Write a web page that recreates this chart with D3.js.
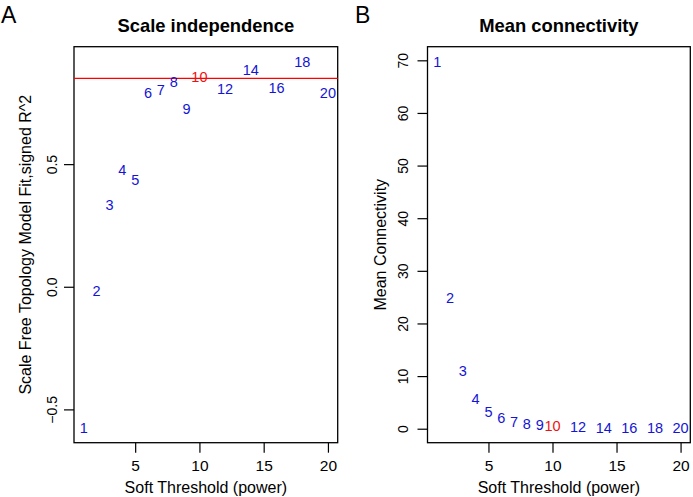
<!DOCTYPE html>
<html><head><meta charset="utf-8">
<script src="https://cdn.jsdelivr.net/npm/d3@7"></script>
<style>body{margin:0;background:#fff} svg{display:block} text{font-family:"Liberation Sans",Arial,Helvetica,sans-serif}</style>
</head><body><svg id="c" width="693" height="497"></svg>
<script>
const powers = [1,2,3,4,5,6,7,8,9,10,12,14,16,18,20];
const scaleFitR2 = [-0.576,-0.015,0.334,0.478,0.436,0.790,0.802,0.835,0.726,0.855,0.809,0.885,0.810,0.919,0.790];
const meanConnectivity = [69.8,24.8,11.1,5.6,3.3,2.0,1.3,1.0,0.7,0.5,0.3,0.22,0.18,0.15,0.13];
const xTicks = [5,10,15,20];
const yTicksA = [-0.5,0.0,0.5];
const yTicksB = [0,10,20,30,40,50,60,70];
const cutoff = 0.85;
const highlightPower = 10;

const svg = d3.select("#c");
const BLUE = "#1414d6", RED = "#ee1111";

function pad(ext){const s=ext[1]-ext[0];return [ext[0]-0.04*s, ext[1]+0.04*s];}

function panel(opt){
  const {x0,x1,y0,y1,vals,yTicks,yFmt,title,letter,letterX,ylab,ylabX,ytickX} = opt;
  const x = d3.scaleLinear().domain(pad(d3.extent(powers))).range([x0,x1]);
  const y = d3.scaleLinear().domain(pad(d3.extent(vals))).range([y1,y0]);
  const g = svg.append("g");
  // x axis
  const xa = g.append("g").attr("transform",`translate(0,${y1})`)
    .call(d3.axisBottom(x).tickValues(xTicks).tickSize(10).tickPadding(6).tickFormat(d3.format("d")));
  xa.select(".domain").remove();
  xa.selectAll("line").attr("stroke","#000").attr("stroke-width",1.2);
  xa.selectAll("text").attr("font-size",15.5).attr("fill","#000").attr("dy",null).attr("y",28.8);
  // y axis
  const ya = g.append("g").attr("transform",`translate(${x0},0)`)
    .call(d3.axisLeft(y).tickValues(yTicks).tickSize(10).tickFormat(yFmt));
  ya.select(".domain").remove();
  ya.selectAll("line").attr("stroke","#000").attr("stroke-width",1.2);
  ya.selectAll("text").attr("font-size",14).attr("fill","#000")
    .attr("x",null).attr("dy",null).attr("text-anchor","middle")
    .attr("transform",`translate(${ytickX-x0},0) rotate(-90)`);
  // box
  g.append("rect").attr("x",x0).attr("y",y0).attr("width",x1-x0).attr("height",y1-y0)
    .attr("fill","none").attr("stroke","#000").attr("stroke-width",1.3);
  if(opt.hline!==undefined){
    g.append("line").attr("x1",x0).attr("x2",x1).attr("y1",y(opt.hline)).attr("y2",y(opt.hline))
      .attr("stroke","#ff0000").attr("stroke-width",1.3);
  }
  // labels as points
  g.selectAll("text.pt").data(powers).join("text").attr("class","pt")
    .attr("x",d=>x(d)).attr("y",(d,i)=>y(vals[i])).attr("dy","0.36em")
    .attr("text-anchor","middle").attr("font-size",14.5)
    .attr("fill",d=>d===highlightPower?RED:BLUE).text(d=>d);
  // title
  g.append("text").attr("x",(x0+x1)/2).attr("y",32).attr("text-anchor","middle")
    .attr("font-size",18.4).attr("font-weight","bold").text(title);
  g.append("text").attr("x",letterX).attr("y",23).attr("font-size",23).text(letter);
  g.append("text").attr("x",(x0+x1)/2).attr("y",493).attr("text-anchor","middle")
    .attr("font-size",16).text("Soft Threshold (power)");
  g.append("text").attr("transform",`translate(${ylabX},${(y0+y1)/2}) rotate(-90)`)
    .attr("text-anchor","middle").attr("font-size",16).text(ylab);
}

const fmtA = d => (d<0?"\u2212":"")+Math.abs(d).toFixed(1);
panel({x0:74,x1:337.7,y0:46.7,y1:442.7,vals:scaleFitR2,yTicks:yTicksA,yFmt:fmtA,
  title:"Scale independence",letter:"A",letterX:1,ylab:"Scale Free Topology Model Fit,signed R^2",ylabX:31,ytickX:57,hline:cutoff});
panel({x0:427.5,x1:690.3,y0:46.7,y1:442.7,vals:meanConnectivity,yTicks:yTicksB,yFmt:d3.format("d"),
  title:"Mean connectivity",letter:"B",letterX:355,ylab:"Mean Connectivity",ylabX:386,ytickX:408});
</script></body></html>
